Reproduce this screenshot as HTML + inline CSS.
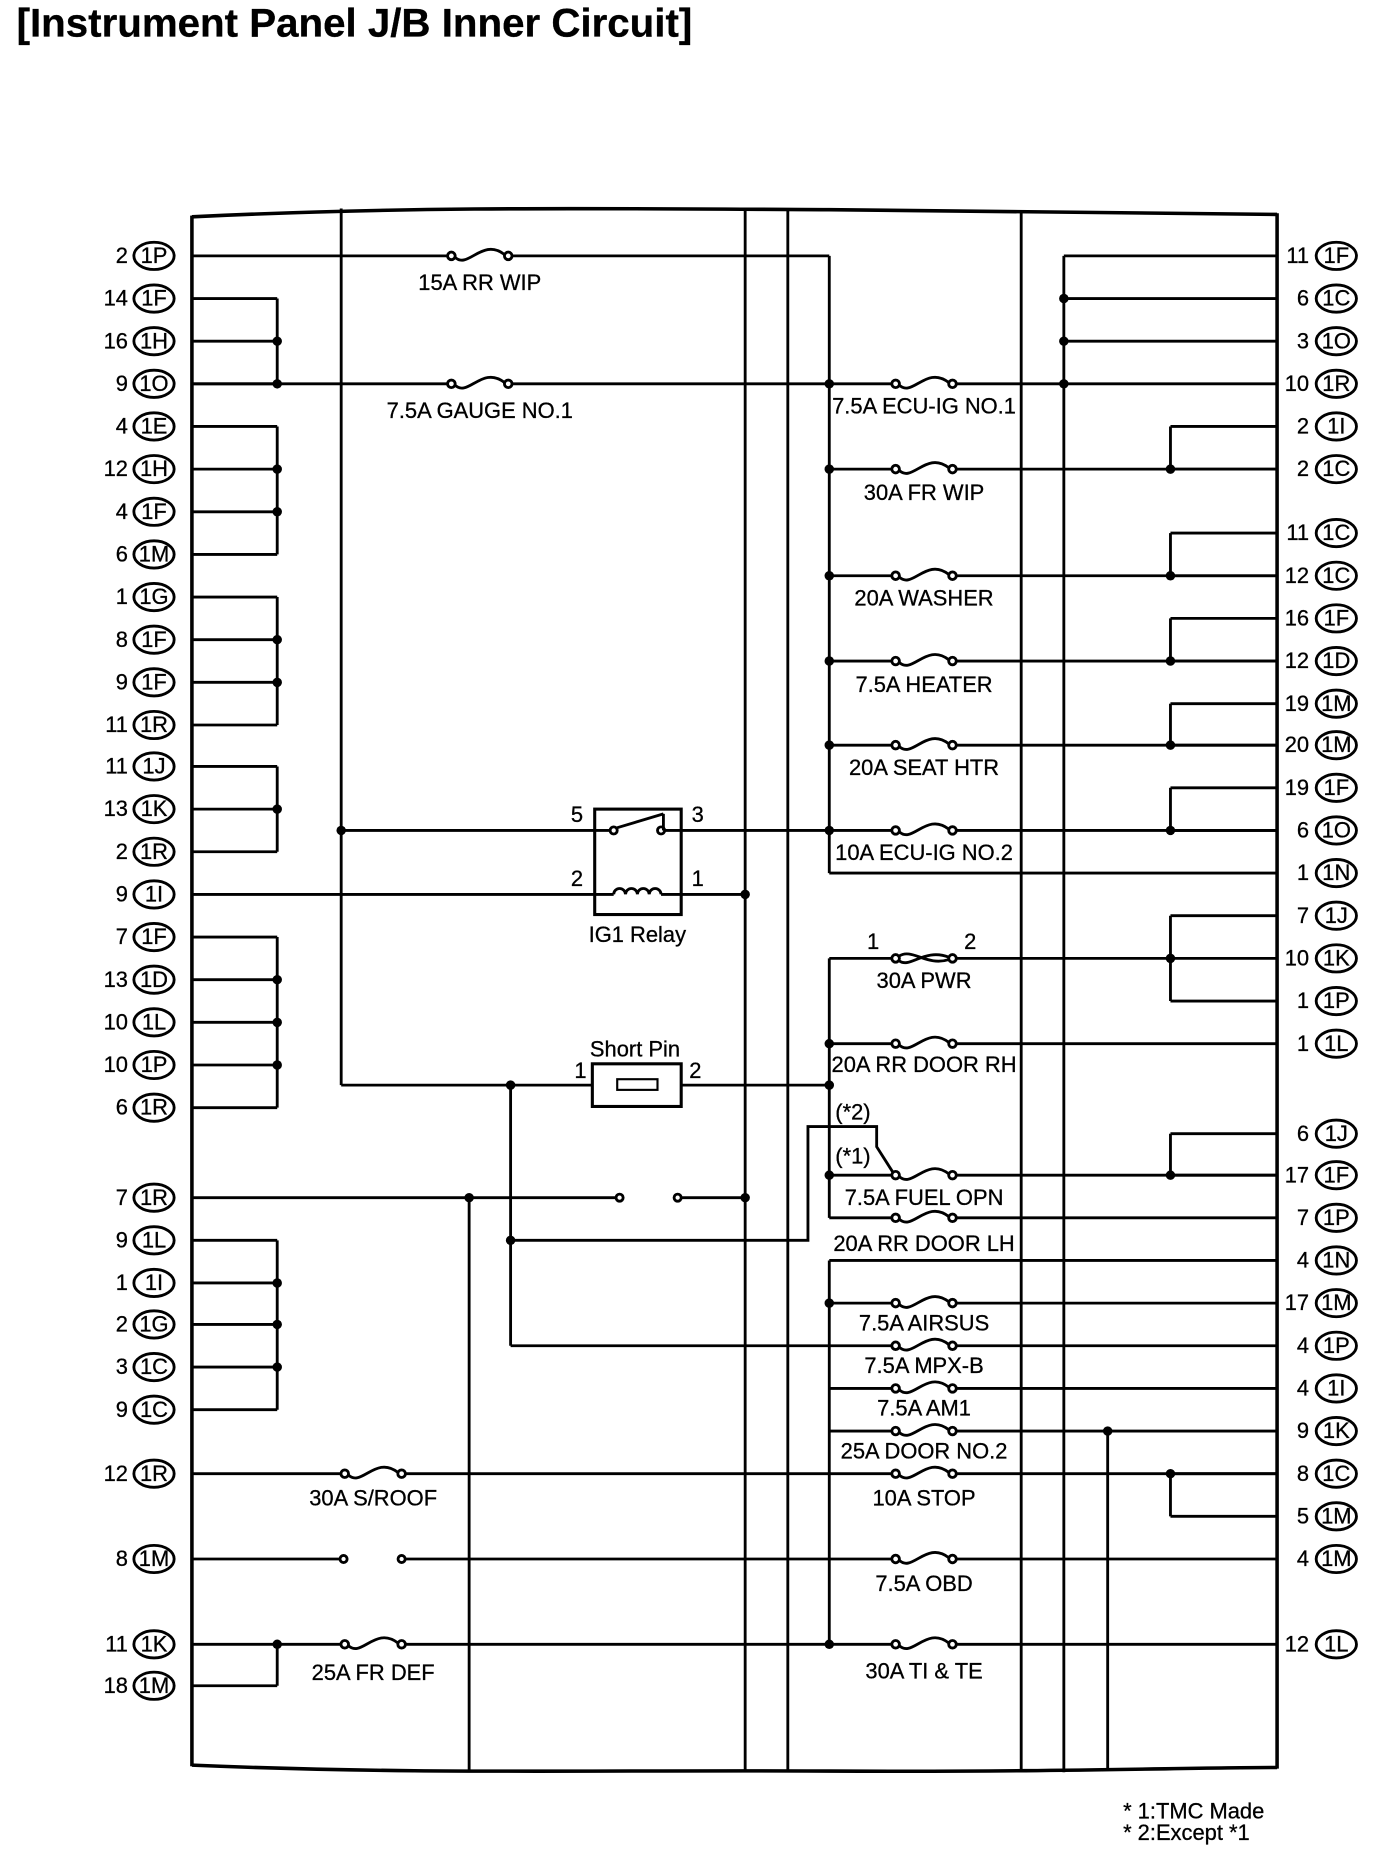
<!DOCTYPE html>
<html><head><meta charset="utf-8"><style>
html,body{margin:0;padding:0;background:#fff;}
svg{display:block;}
text{font-family:"Liberation Sans",Arial,sans-serif;font-size:18.5px;fill:#000;stroke:#000;stroke-width:0.25;}
.t{font-size:34px;font-weight:bold;}
.c{text-anchor:middle;}
.e{text-anchor:end;}
</style></head><body>
<svg id="s" width="1392" height="1858" viewBox="0 0 1175 1568.4" preserveAspectRatio="none" xmlns="http://www.w3.org/2000/svg">
<rect width="1175" height="1569" fill="#fff"/>
<text x="14" y="31" class="t">[Instrument Panel J/B Inner Circuit]</text>
<g id="g" stroke="#000" fill="none" stroke-width="2.4"></g>
<g id="txt">
<text x="108" y="222" class="e">2</text><text x="130" y="222" class="c">1P</text>
<text x="108" y="258" class="e">14</text><text x="130" y="258" class="c">1F</text>
<text x="108" y="294" class="e">16</text><text x="130" y="294" class="c">1H</text>
<text x="108" y="330" class="e">9</text><text x="130" y="330" class="c">1O</text>
<text x="108" y="366" class="e">4</text><text x="130" y="366" class="c">1E</text>
<text x="108" y="402" class="e">12</text><text x="130" y="402" class="c">1H</text>
<text x="108" y="438" class="e">4</text><text x="130" y="438" class="c">1F</text>
<text x="108" y="474" class="e">6</text><text x="130" y="474" class="c">1M</text>
<text x="108" y="510" class="e">1</text><text x="130" y="510" class="c">1G</text>
<text x="108" y="546" class="e">8</text><text x="130" y="546" class="c">1F</text>
<text x="108" y="582" class="e">9</text><text x="130" y="582" class="c">1F</text>
<text x="108" y="618" class="e">11</text><text x="130" y="618" class="c">1R</text>
<text x="108" y="653" class="e">11</text><text x="130" y="653" class="c">1J</text>
<text x="108" y="689" class="e">13</text><text x="130" y="689" class="c">1K</text>
<text x="108" y="725" class="e">2</text><text x="130" y="725" class="c">1R</text>
<text x="108" y="761" class="e">9</text><text x="130" y="761" class="c">1I</text>
<text x="108" y="797" class="e">7</text><text x="130" y="797" class="c">1F</text>
<text x="108" y="833" class="e">13</text><text x="130" y="833" class="c">1D</text>
<text x="108" y="869" class="e">10</text><text x="130" y="869" class="c">1L</text>
<text x="108" y="905" class="e">10</text><text x="130" y="905" class="c">1P</text>
<text x="108" y="941" class="e">6</text><text x="130" y="941" class="c">1R</text>
<text x="108" y="1017" class="e">7</text><text x="130" y="1017" class="c">1R</text>
<text x="108" y="1053" class="e">9</text><text x="130" y="1053" class="c">1L</text>
<text x="108" y="1089" class="e">1</text><text x="130" y="1089" class="c">1I</text>
<text x="108" y="1124" class="e">2</text><text x="130" y="1124" class="c">1G</text>
<text x="108" y="1160" class="e">3</text><text x="130" y="1160" class="c">1C</text>
<text x="108" y="1196" class="e">9</text><text x="130" y="1196" class="c">1C</text>
<text x="108" y="1250" class="e">12</text><text x="130" y="1250" class="c">1R</text>
<text x="108" y="1322" class="e">8</text><text x="130" y="1322" class="c">1M</text>
<text x="108" y="1394" class="e">11</text><text x="130" y="1394" class="c">1K</text>
<text x="108" y="1429" class="e">18</text><text x="130" y="1429" class="c">1M</text>
<text x="1105" y="222" class="e">11</text><text x="1128" y="222" class="c">1F</text>
<text x="1105" y="258" class="e">6</text><text x="1128" y="258" class="c">1C</text>
<text x="1105" y="294" class="e">3</text><text x="1128" y="294" class="c">1O</text>
<text x="1105" y="330" class="e">10</text><text x="1128" y="330" class="c">1R</text>
<text x="1105" y="366" class="e">2</text><text x="1128" y="366" class="c">1I</text>
<text x="1105" y="402" class="e">2</text><text x="1128" y="402" class="c">1C</text>
<text x="1105" y="456" class="e">11</text><text x="1128" y="456" class="c">1C</text>
<text x="1105" y="492" class="e">12</text><text x="1128" y="492" class="c">1C</text>
<text x="1105" y="528" class="e">16</text><text x="1128" y="528" class="c">1F</text>
<text x="1105" y="564" class="e">12</text><text x="1128" y="564" class="c">1D</text>
<text x="1105" y="600" class="e">19</text><text x="1128" y="600" class="c">1M</text>
<text x="1105" y="635" class="e">20</text><text x="1128" y="635" class="c">1M</text>
<text x="1105" y="671" class="e">19</text><text x="1128" y="671" class="c">1F</text>
<text x="1105" y="707" class="e">6</text><text x="1128" y="707" class="c">1O</text>
<text x="1105" y="743" class="e">1</text><text x="1128" y="743" class="c">1N</text>
<text x="1105" y="779" class="e">7</text><text x="1128" y="779" class="c">1J</text>
<text x="1105" y="815" class="e">10</text><text x="1128" y="815" class="c">1K</text>
<text x="1105" y="851" class="e">1</text><text x="1128" y="851" class="c">1P</text>
<text x="1105" y="887" class="e">1</text><text x="1128" y="887" class="c">1L</text>
<text x="1105" y="963" class="e">6</text><text x="1128" y="963" class="c">1J</text>
<text x="1105" y="998" class="e">17</text><text x="1128" y="998" class="c">1F</text>
<text x="1105" y="1034" class="e">7</text><text x="1128" y="1034" class="c">1P</text>
<text x="1105" y="1070" class="e">4</text><text x="1128" y="1070" class="c">1N</text>
<text x="1105" y="1106" class="e">17</text><text x="1128" y="1106" class="c">1M</text>
<text x="1105" y="1142" class="e">4</text><text x="1128" y="1142" class="c">1P</text>
<text x="1105" y="1178" class="e">4</text><text x="1128" y="1178" class="c">1I</text>
<text x="1105" y="1214" class="e">9</text><text x="1128" y="1214" class="c">1K</text>
<text x="1105" y="1250" class="e">8</text><text x="1128" y="1250" class="c">1C</text>
<text x="1105" y="1286" class="e">5</text><text x="1128" y="1286" class="c">1M</text>
<text x="1105" y="1322" class="e">4</text><text x="1128" y="1322" class="c">1M</text>
<text x="1105" y="1394" class="e">12</text><text x="1128" y="1394" class="c">1L</text>
<text x="405" y="245" class="c">15A RR WIP</text>
<text x="405" y="353" class="c">7.5A GAUGE NO.1</text>
<text x="780" y="349" class="c">7.5A ECU-IG NO.1</text>
<text x="780" y="422" class="c">30A FR WIP</text>
<text x="780" y="511" class="c">20A WASHER</text>
<text x="780" y="584" class="c">7.5A HEATER</text>
<text x="780" y="654" class="c">20A SEAT HTR</text>
<text x="780" y="726" class="c">10A ECU-IG NO.2</text>
<text x="737" y="801" class="c">1</text><text x="819" y="801" class="c">2</text>
<text x="780" y="834" class="c">30A PWR</text>
<text x="780" y="905" class="c">20A RR DOOR RH</text>
<text x="720" y="945" class="c">(*2)</text>
<text x="720" y="982" class="c">(*1)</text>
<text x="780" y="1017" class="c">7.5A FUEL OPN</text>
<text x="780" y="1056" class="c">20A RR DOOR LH</text>
<text x="780" y="1123" class="c">7.5A AIRSUS</text>
<text x="780" y="1159" class="c">7.5A MPX-B</text>
<text x="780" y="1195" class="c">7.5A AM1</text>
<text x="780" y="1231" class="c">25A DOOR NO.2</text>
<text x="780" y="1271" class="c">10A STOP</text>
<text x="780" y="1343" class="c">7.5A OBD</text>
<text x="780" y="1417" class="c">30A TI &amp; TE</text>
<text x="315" y="1271" class="c">30A S/ROOF</text>
<text x="315" y="1418" class="c">25A FR DEF</text>
<text x="487" y="694" class="c">5</text><text x="589" y="694" class="c">3</text>
<text x="487" y="748" class="c">2</text><text x="589" y="748" class="c">1</text>
<text x="538" y="795" class="c">IG1 Relay</text>
<text x="536" y="892" class="c">Short Pin</text>
<text x="490" y="910" class="c">1</text><text x="587" y="910" class="c">2</text>
<text x="948" y="1535">* 1:TMC Made</text>
<text x="948" y="1553">* 2:Except *1</text>
</g>
<script>
const g=document.getElementById('g');const N='http://www.w3.org/2000/svg';
function el(t,a){const e=document.createElementNS(N,t);for(const k in a)e.setAttribute(k,a[k]);g.appendChild(e);return e;}
function L(x1,y1,x2,y2,w){el('line',{x1,y1,x2,y2,'stroke-width':w||2.4});}
function P(d,w){el('path',{d,'stroke-width':w||2.4});}
function D(x,y){el('circle',{cx:x,cy:y,r:4,fill:'#000',stroke:'none'});}
function F(x,y,x1,x2){
 L(x1,y,x-27,y);L(x+27,y,x2,y);
 el('circle',{cx:x-24,cy:y,r:3.2,fill:'#fff'});el('circle',{cx:x+24,cy:y,r:3.2,fill:'#fff'});
 P(`M${x-21},${y+1} C${x-10},${y+12} ${x+2},${y-16} ${x+21},${y-1}`);}
function O(x,y){el('ellipse',{cx:x,cy:y,rx:17,ry:11.5,fill:'none'});}
const ly=[216,252,288,324,360,396,432,468,504,540,576,612,647,683,719,755,791,827,863,899,935,1011,1047,1083,1118,1154,1190,1244,1316,1388,1423];
ly.forEach(y=>O(130,y));
const ry=[216,252,288,324,360,396,450,486,522,558,594,629,665,701,737,773,809,845,881,957,992,1028,1064,1100,1136,1172,1208,1244,1280,1316,1388];
ry.forEach(y=>O(1128,y));
P('M162,183 C350,174 500,176 700,177 C900,178 1000,180 1078,181',3);
P('M162,1490 C350,1498 500,1494 700,1495 C900,1496 1000,1492 1078,1492',3);
L(162,182,162,1491,3);L(1078,180,1078,1493,3);
L(288,176,288,916);L(629,178,629,1494);L(665,178,665,1494);L(862,178,862,1496);L(898,216,898,1496);L(935,1208,935,1494);L(396,1011,396,1496);L(431,916,431,1136);
function grp(x,a,b,dots){L(162,a,x,a);L(x,a,x,b);L(162,b,x,b);dots.forEach(y=>{L(162,y,x,y);D(x,y);});}
grp(234,252,324,[288]);D(234,324);
grp(234,360,468,[396,432]);grp(234,504,612,[540,576]);grp(234,647,719,[683]);
grp(234,791,935,[827,863,899]);grp(234,1047,1190,[1083,1118,1154]);
L(234,1388,234,1423);L(162,1423,234,1423);D(234,1388);
F(405,216,162,700);L(700,216,700,737);
F(405,324,162,755);F(780,324,755,1078);D(700,324);D(898,324);
L(898,216,1078,216);L(898,252,1078,252);L(898,288,1078,288);D(898,252);D(898,288);
[396,486,558,629,701].forEach(y=>{F(780,y,700,1078);D(700,y);});
L(700,737,1078,737);
function rg(a,b,d){L(988,a,1078,a);L(988,a,988,b);L(988,b,1078,b);D(988,d);}
rg(360,396,396);rg(450,486,486);rg(522,558,558);rg(594,629,629);rg(665,701,701);
L(988,773,1078,773);L(988,773,988,845);L(988,845,1078,845);L(988,809,1078,809);D(988,809);
rg(957,992,992);rg(1244,1280,1244);
el('rect',{x:502,y:683,width:73,height:89,fill:'#fff','stroke-width':2.6});
L(288,701,502,701);D(288,701);L(575,701,700,701);
L(502,701,515,701);L(560,701,575,701);
el('circle',{cx:518,cy:701,r:3,fill:'#fff'});el('circle',{cx:558,cy:701,r:3,fill:'#fff'});
L(520,699,560,687);L(560,687,560,701);
L(162,755,502,755);L(575,755,629,755);D(629,755);
L(502,755,518,755);L(558,755,575,755);
P('M518,755 a5,5 0 1 1 10,0 a5,5 0 1 1 10,0 a5,5 0 1 1 10,0 a5,5 0 1 1 10,0');
L(700,809,700,1028);L(700,809,760,809);L(800,809,988,809);
el('circle',{cx:756,cy:809,r:3.2,fill:'#fff'});el('circle',{cx:804,cy:809,r:3.2,fill:'#fff'});
P('M759,811 C768,818 780,800 801,808');P('M759,807 C770,800 782,816 801,810');
F(780,881,700,1078);D(700,881);
L(288,916,500,916);D(431,916);L(575,916,700,916);D(700,916);
el('rect',{x:500,y:898,width:75,height:36,fill:'#fff','stroke-width':2.6});
el('rect',{x:521,y:911,width:34,height:9,fill:'none','stroke-width':1.8});
F(780,992,700,1078);D(700,992);
P('M431,1047 L682,1047 L682,951 L740,951 L740,968 L754,990');D(431,1047);
F(780,1028,700,1078);
L(162,1011,523,1011);D(396,1011);el('circle',{cx:523,cy:1011,r:3,fill:'#fff'});
el('circle',{cx:572,cy:1011,r:3,fill:'#fff'});L(575,1011,629,1011);D(629,1011);
L(700,1064,1078,1064);L(700,1064,700,1388);
F(780,1100,700,1078);D(700,1100);
F(780,1136,431,1078);
F(780,1172,700,1078);F(780,1208,700,1078);D(935,1208);
F(315,1244,162,755);F(780,1244,755,1078);
L(162,1316,287,1316);el('circle',{cx:290,cy:1316,r:3,fill:'#fff'});el('circle',{cx:339,cy:1316,r:3,fill:'#fff'});
F(780,1316,342,1078);
F(315,1388,162,755);F(780,1388,755,1078);D(700,1388);
</script>
</svg>
</body></html>
